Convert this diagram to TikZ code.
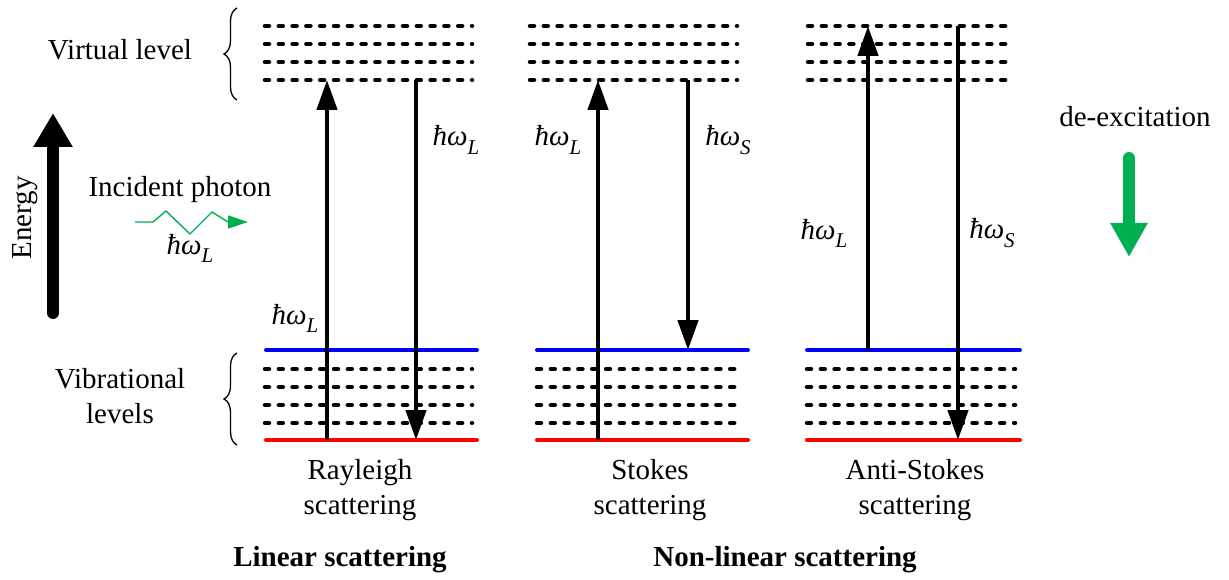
\documentclass[tikz,border=0pt]{standalone}
\usepackage{fontspec}
\setmainfont{Liberation Serif}
\usetikzlibrary{arrows.meta,decorations.pathreplacing}
\definecolor{pgreen}{RGB}{0,176,80}
\definecolor{lblue}{RGB}{0,0,255}
\definecolor{lred}{RGB}{255,0,0}
\newcommand{\hwsub}[1]{{\itshape ħω\raisebox{-0.28em}{\fontsize{21}{21}\selectfont #1}}}
\begin{document}
\begin{tikzpicture}[x=1pt,y=-1pt,
  every node/.style={font=\fontsize{29}{35}\selectfont, inner sep=0pt},
  dotlvl/.style={line width=4.5pt, dash pattern=on 4pt off 9.8pt, line cap=round},
  bluelvl/.style={line width=4pt, lblue, line cap=round},
  redlvl/.style={line width=4pt, lred, line cap=round},
  trans/.style={line width=4.5pt, -{Triangle[length=30pt,width=20pt]}},
  bracestyle/.style={line width=1.3pt, decorate, decoration={brace, amplitude=13pt}},
  lbl/.style={font=\fontsize{29}{35}\selectfont}
]
\useasboundingbox (0,0) rectangle (1229,580);

% ---- level coordinates ----
% Rayleigh group
\foreach \y [count=\i] in {26,44,62,80} {\coordinate (RvA\i) at (265,\y); \coordinate (RvB\i) at (472,\y);}
\foreach \y [count=\i] in {369,387,405,423} {\coordinate (RlA\i) at (265,\y); \coordinate (RlB\i) at (472,\y);}
\coordinate (RbA) at (266,350); \coordinate (RbB) at (477,350);
\coordinate (RrA) at (266,440); \coordinate (RrB) at (477,440);
% Stokes group
\foreach \y [count=\i] in {26,44,62,80} {\coordinate (SvA\i) at (530,\y); \coordinate (SvB\i) at (737,\y);}
\foreach \y [count=\i] in {369,387,405,423} {\coordinate (SlA\i) at (537,\y); \coordinate (SlB\i) at (743,\y);}
\coordinate (SbA) at (537,350); \coordinate (SbB) at (748,350);
\coordinate (SrA) at (537,440); \coordinate (SrB) at (748,440);
% Anti-Stokes group
\foreach \y [count=\i] in {26,44,62,80} {\coordinate (AvA\i) at (808,\y); \coordinate (AvB\i) at (1013,\y);}
\foreach \y [count=\i] in {369,387,405,423} {\coordinate (AlA\i) at (807,\y); \coordinate (AlB\i) at (1015,\y);}
\coordinate (AbA) at (807,350); \coordinate (AbB) at (1020,350);
\coordinate (ArA) at (807,440); \coordinate (ArB) at (1020,440);

% dotted levels
\foreach \g in {R,S,A} {
  \foreach \i in {1,2,3,4} {
    \draw[dotlvl] (\g vA\i) -- (\g vB\i);
    \draw[dotlvl] (\g lA\i) -- (\g lB\i);
  }
}
% blue and red levels
\draw[bluelvl] (RbA) -- (RbB);
\draw[redlvl] (RrA) -- (RrB);
\draw[bluelvl] (SbA) -- (SbB);
\draw[redlvl] (SrA) -- (SrB);
\draw[bluelvl] (AbA) -- (AbB);
\draw[redlvl] (ArA) -- (ArB);

% ---- transitions ----
\coordinate (r1s) at (327,440); \coordinate (r1e) at (327,80);
\coordinate (r2s) at (416,80);  \coordinate (r2e) at (416,440);
\coordinate (s1s) at (598,440); \coordinate (s1e) at (598,80);
\coordinate (s2s) at (688,80);  \coordinate (s2e) at (688,350);
\coordinate (a1s) at (868,350); \coordinate (a1e) at (868,26);
\coordinate (a2s) at (958,26);  \coordinate (a2e) at (958,440);
\draw[trans] (r1s) -- (r1e);
\draw[trans] (r2s) -- (r2e);
\draw[trans] (s1s) -- (s1e);
\draw[trans] (s2s) -- (s2e);
\draw[trans] (a1s) -- (a1e);
\draw[trans] (a2s) -- (a2e);

% transition labels
\node[lbl] (lr1) at (295,318) {\hwsub{L}};
\node[lbl] (lr2) at (456,140) {\hwsub{L}};
\node[lbl] (ls1) at (558,140) {\hwsub{L}};
\node[lbl] (ls2) at (728,140) {\hwsub{S}};
\node[lbl] (la1) at (824,233) {\hwsub{L}};
\node[lbl] (la2) at (992,233) {\hwsub{S}};

% ---- braces and side labels ----
\coordinate (bv1) at (237,100); \coordinate (bv2) at (237,8);
\draw[bracestyle] (bv1) -- (bv2);
\coordinate (bl1) at (237,445); \coordinate (bl2) at (237,353);
\draw[bracestyle] (bl1) -- (bl2);
\node (virt) at (120,50) {Virtual level};
\node[align=center] (vib) at (120,396) {Vibrational\\levels};

% Energy arrow
\coordinate (en1) at (53,313); \coordinate (en2) at (53,113);
\draw[line width=12pt, line cap=round, -{Triangle[length=34pt,width=37pt]}] (en1) -- (en2);
\node[rotate=90] (energy) at (25,218) {Energy};

% incident photon
\node (inc) at (180,190) {Incident photon};
\coordinate (p0) at (135,222); \coordinate (p1) at (153,222);
\coordinate (p2) at (166,211); \coordinate (p3) at (190,234);
\coordinate (p4) at (212,212); \coordinate (p5) at (228,222);
\coordinate (p6) at (248,222);
\draw[pgreen, line width=1.4pt, line join=miter, -{Triangle[length=20pt,width=13pt]}]
  (p0) -- (p1) -- (p2) -- (p3) -- (p4) -- (p5) -- (p6);
\node[lbl] (incl) at (190,248) {\hwsub{L}};

% de-excitation
\node (deex) at (1135,117) {de-excitation};
\coordinate (d1) at (1129,158); \coordinate (d2) at (1129,257);
\draw[pgreen, line width=12pt, line cap=round, -{Triangle[length=34pt,width=35pt]}] (d1) -- (d2);

% bottom labels
\node[align=center] (ray) at (360,490) {Rayleigh\\scattering};
\node[align=center] (sto) at (650,490) {Stokes\\scattering};
\node[align=center] (ast) at (915,490) {Anti-Stokes\\scattering};
\node[font=\fontsize{29}{35}\selectfont\bfseries] (lin) at (340,560) {Linear scattering};
\node[font=\fontsize{29}{35}\selectfont\bfseries] (nlin) at (785,560) {Non-linear scattering};
\end{tikzpicture}
\end{document}
